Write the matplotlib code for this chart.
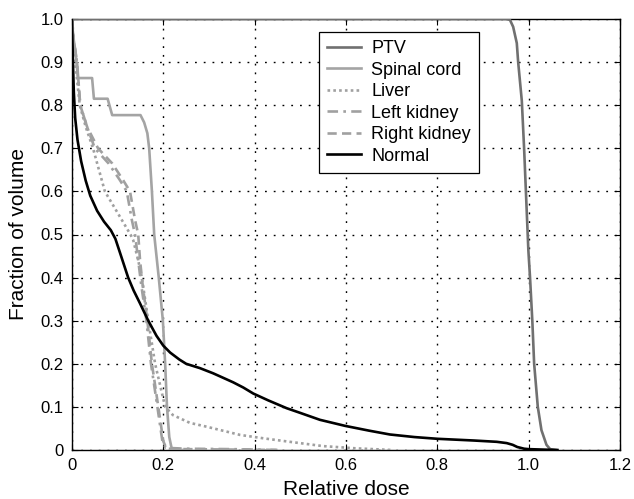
import matplotlib
matplotlib.use("Agg")
import matplotlib.pyplot as plt
from matplotlib.ticker import FixedLocator, FixedFormatter

plt.rcParams['font.family'] = ['Liberation Sans', 'DejaVu Sans']

# PTV
ptv_d = [0, 0.95, 0.959, 0.966, 0.974, 0.977, 0.985, 0.99, 0.9993, 1.003, 1.008, 1.012,
         1.02, 1.028, 1.039, 1.047, 1.06]
ptv_f = [1.0, 1.0, 0.998, 0.982, 0.944, 0.90, 0.81, 0.70, 0.464, 0.40, 0.30, 0.20,
         0.10, 0.046, 0.012, 0.002, 0.0]

# Spinal cord
cord_d = [0, 0.003, 0.008, 0.013, 0.044, 0.048, 0.078, 0.088, 0.15, 0.158, 0.165, 0.169,
          0.175, 0.18, 0.19, 0.199, 0.204, 0.208, 0.213, 0.219, 0.25]
cord_f = [1.0, 0.95, 0.92, 0.863, 0.863, 0.815, 0.815, 0.777, 0.777, 0.76, 0.735, 0.70,
          0.6, 0.5, 0.40, 0.3, 0.2, 0.1, 0.03, 0.0, 0.0]

# Liver
liver_d = [0, 0.004, 0.01, 0.017, 0.03, 0.046, 0.072, 0.1, 0.128, 0.134, 0.145, 0.153,
           0.167, 0.182, 0.193, 0.204, 0.221, 0.258, 0.295, 0.368, 0.42, 0.477, 0.55, 0.62, 0.7]
liver_f = [1.0, 0.93, 0.87, 0.80, 0.75, 0.70, 0.60, 0.55, 0.50, 0.487, 0.44, 0.40,
           0.30, 0.20, 0.15, 0.10, 0.081, 0.063, 0.054, 0.035, 0.027, 0.019, 0.009, 0.004, 0.0]

# Left kidney
lkid_d = [0, 0.004, 0.011, 0.018, 0.033, 0.05, 0.08, 0.105, 0.12, 0.131, 0.138, 0.145,
          0.152, 0.163, 0.173, 0.187, 0.198, 0.205, 0.25, 0.35, 0.45]
lkid_f = [1.0, 0.95, 0.9, 0.8, 0.75, 0.70, 0.665, 0.626, 0.6, 0.534, 0.5, 0.44,
          0.38, 0.3, 0.2, 0.1, 0.02, 0.005, 0.003, 0.002, 0.0]

# Right kidney
rkid_d = [0, 0.004, 0.011, 0.018, 0.033, 0.057, 0.088, 0.112, 0.127, 0.138, 0.145, 0.149,
          0.155, 0.165, 0.175, 0.189, 0.2, 0.207, 0.25, 0.35, 0.45]
rkid_f = [1.0, 0.95, 0.9, 0.8, 0.75, 0.70, 0.665, 0.626, 0.6, 0.534, 0.5, 0.44,
          0.38, 0.3, 0.2, 0.1, 0.02, 0.003, 0.002, 0.001, 0.0]

# Normal tissue
norm_d = [0, 0.002, 0.004, 0.007, 0.012, 0.02, 0.03, 0.04, 0.055, 0.07, 0.085, 0.095,
          0.105, 0.123, 0.135, 0.149, 0.167, 0.185, 0.2, 0.215, 0.235, 0.25, 0.28, 0.309,
          0.33, 0.353, 0.375, 0.397, 0.43, 0.47, 0.5, 0.543, 0.598, 0.65, 0.696, 0.75,
          0.8, 0.88, 0.93, 0.952, 0.965, 0.975, 0.99, 1.0, 1.03, 1.063]
norm_f = [1.0, 0.9, 0.83, 0.77, 0.72, 0.67, 0.625, 0.59, 0.555, 0.53, 0.51, 0.49,
          0.458, 0.40, 0.37, 0.34, 0.30, 0.265, 0.242, 0.226, 0.21, 0.2, 0.19, 0.178,
          0.168, 0.157, 0.145, 0.131, 0.115, 0.097, 0.086, 0.07, 0.056, 0.045, 0.036, 0.03,
          0.026, 0.022, 0.019, 0.016, 0.012, 0.007, 0.003, 0.002, 0.001, 0.0]

x_ticks = [0, 0.2, 0.4, 0.6, 0.8, 1.0, 1.2]
x_labels = ['0', '0.2', '0.4', '0.6', '0.8', '1.0', '1.2']
y_ticks = [0, 0.1, 0.2, 0.3, 0.4, 0.5, 0.6, 0.7, 0.8, 0.9, 1.0]
y_labels = ['0', '0.1', '0.2', '0.3', '0.4', '0.5', '0.6', '0.7', '0.8', '0.9', '1.0']

fig = plt.figure(figsize=(6.34, 4.99), dpi=100)
ax = fig.add_axes([72/634, 49/499, 548/634, 431/499])

lw = 1.9
ax.plot(ptv_d, ptv_f, color='#707070', lw=lw, label='PTV', zorder=3)
ax.plot(cord_d, cord_f, color='#a4a4a4', lw=lw, label='Spinal cord', zorder=3)
ax.plot(liver_d, liver_f, color='#a0a0a0', lw=lw, ls=(0, (1, 1.2)), label='Liver', zorder=3)
ax.plot(lkid_d, lkid_f, color='#a0a0a0', lw=lw, ls=(0, (4, 2, 1, 2)), label='Left kidney', zorder=3)
ax.plot(rkid_d, rkid_f, color='#a0a0a0', lw=lw, ls=(0, (3.5, 2)), label='Right kidney', zorder=3)
ax.plot(norm_d, norm_f, color='black', lw=lw, label='Normal', zorder=4)

ax.set_xlim(0, 1.2)
ax.set_ylim(0, 1.0)
ax.xaxis.set_major_locator(FixedLocator(x_ticks))
ax.xaxis.set_major_formatter(FixedFormatter(x_labels))
ax.yaxis.set_major_locator(FixedLocator(y_ticks))
ax.yaxis.set_major_formatter(FixedFormatter(y_labels))
ax.tick_params(direction='in', top=True, right=True, labelsize=12, length=4, width=0.8, pad=6)
ax.grid(True, color='black', ls=(0, (1.3, 5)), lw=1.0)
for s in ax.spines.values():
    s.set_linewidth(1.0)

ax.set_xlabel('Relative dose', fontsize=15, labelpad=5)
ax.set_ylabel('Fraction of volume', fontsize=15, labelpad=9)

leg = ax.legend(loc='upper left', bbox_to_anchor=((319 - 72) / 548, (450 - 32) / 431),
                borderaxespad=0, fontsize=13, handlelength=1.9, frameon=True,
                fancybox=False, framealpha=1, edgecolor='black', borderpad=0.45,
                labelspacing=0.25, handletextpad=0.55)
leg.get_frame().set_linewidth(0.9)

fig.savefig('out.png', dpi=100)
